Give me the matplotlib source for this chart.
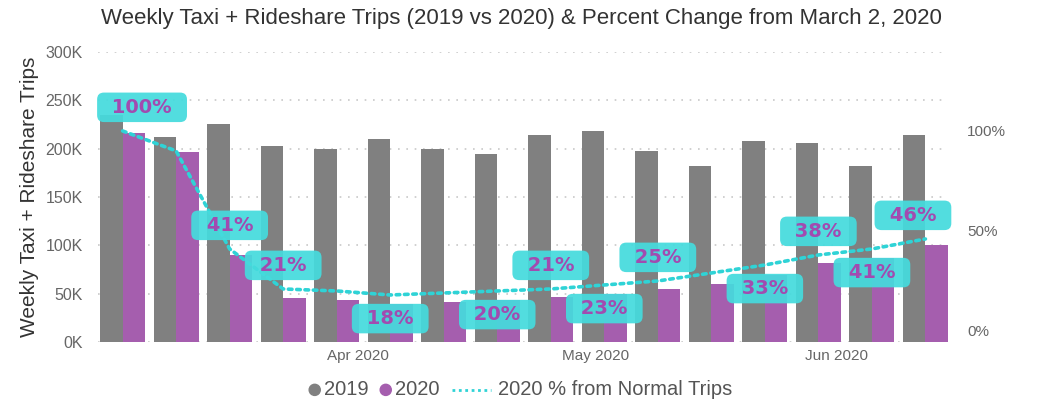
import numpy as np
import matplotlib
matplotlib.use('Agg')
import matplotlib.pyplot as plt
from matplotlib.lines import Line2D
from matplotlib.patches import Circle
from matplotlib.offsetbox import HPacker, TextArea, DrawingArea, AnchoredOffsetbox
from matplotlib.ticker import FuncFormatter

# Weekly trips, weeks starting March 2, 2020 (values in thousands)
weeks = np.arange(16)
trips_2019 = [235, 212.5, 225.5, 203, 200, 209.5, 200, 194, 214.5, 218.5, 198, 181.5, 207.5, 205.5, 181.5, 214.5]
trips_2020 = [216.5, 196.5, 90, 45, 43.5, 39, 41.5, 43, 47, 49.5, 54.5, 59.5, 69, 81.5, 86.5, 100.5]
pct_normal = [100, 90, 41, 21, 20, 18, 19, 20, 21, 23, 25, 29, 33, 38, 41, 46]

# which points get a data label, and whether it sits above (1) or below (-1) the line
label_weeks = [0, 2, 3, 5, 7, 8, 9, 10, 12, 13, 14, 15]
label_side = [1, 1, 1, -1, -1, 1, -1, 1, -1, 1, -1, 1]

month_ticks = [4.4, 8.83, 13.33]
month_labels = ['Apr 2020', 'May 2020', 'Jun 2020']

gray = '#808080'
purple = '#A55EAE'
cyan = '#2FD3D6'
box_cyan = '#45DBDD'
text_gray = '#666666'
dotted = (0, (1, 1.3))

plt.rcParams['font.family'] = ['Liberation Sans', 'DejaVu Sans']

fig = plt.figure(figsize=(10.48, 4.04), dpi=100)
ax = fig.add_axes([0.0935, 0.1535, 0.811, 0.718])

w = 0.42
ax.bar(weeks - w / 2, trips_2019, width=w, color=gray, zorder=2)
ax.bar(weeks + w / 2, trips_2020, width=w, color=purple, zorder=2)

ax.set_xlim(-0.46, 15.42)
ax.set_ylim(0, 300)
ax.set_yticks(np.arange(0, 301, 50))
ax.yaxis.set_major_formatter(FuncFormatter(lambda v, p: f'{int(v)}K'))
ax.grid(axis='y', linestyle=(0, (1, 4)), color='#C8C8C8', linewidth=1.2, zorder=0)
ax.set_axisbelow(True)
ax.set_xticks(month_ticks)
ax.set_xticklabels(month_labels)
ax.tick_params(axis='both', length=0, labelsize=11, colors=text_gray)
ax.tick_params(axis='y', pad=11, labelsize=11.5)
ax.tick_params(axis='x', pad=5)
for s in ax.spines.values():
    s.set_visible(False)
ax.set_ylabel('Weekly Taxi + Rideshare Trips', fontsize=15, color='#333333', labelpad=5)

# percent line on secondary axis
ax2 = ax.twinx()
ax2.set_ylim(-5.5, 139.5)
ax2.set_yticks([0, 50, 100])
ax2.set_yticklabels(['0%', '50%', '100%'])
ax2.tick_params(axis='y', length=0, pad=14, labelsize=11, colors=text_gray)
for s in ax2.spines.values():
    s.set_visible(False)
ax2.plot(weeks, pct_normal, color=cyan, linestyle=dotted, linewidth=2.6,
         dash_capstyle='round', zorder=3)

shift = {0: 14, 15: -9}
for i, side in zip(label_weeks, label_side):
    ax2.annotate('\u2002' + f'{pct_normal[i]}%' + '\u2002', (weeks[i], pct_normal[i]),
                 xytext=(shift.get(i, 0), 17 * side), textcoords='offset points',
                 ha='center', va='center', fontsize=14, fontweight='bold',
                 family='DejaVu Sans', color='#A24BB0', zorder=5,
                 bbox=dict(boxstyle='round,pad=0.27,rounding_size=0.35',
                           facecolor=box_cyan, edgecolor='none', alpha=0.93))

fig.text(0.498, 0.955, 'Weekly Taxi + Rideshare Trips (2019 vs 2020) & Percent Change from March 2, 2020',
         ha='center', va='center', fontsize=16, color='#333333')


# legend built by hand so the dotted-line key can be longer than the dots
def dot_key(color):
    da = DrawingArea(8, 8)
    da.add_artist(Circle((4, 4), 4, color=color))
    return da


def line_key():
    da = DrawingArea(30, 8)
    da.add_artist(Line2D([1, 29], [4, 4], color=cyan, linestyle=dotted, linewidth=2.0))
    return da


tprops = dict(fontsize=14.5, color='#555555')
items = [HPacker(children=[dot_key(gray), TextArea('2019', textprops=tprops)], sep=3, align='center'),
         HPacker(children=[dot_key(purple), TextArea('2020', textprops=tprops)], sep=3, align='center'),
         HPacker(children=[line_key(), TextArea('2020 % from Normal Trips', textprops=tprops)],
                 sep=4, align='center')]
leg = AnchoredOffsetbox(loc='center', child=HPacker(children=items, sep=8, align='center'),
                        bbox_to_anchor=(0.497, 0.035), bbox_transform=fig.transFigure,
                        frameon=False, pad=0, borderpad=0)
fig.add_artist(leg)

fig.savefig('out.png', dpi=100)
